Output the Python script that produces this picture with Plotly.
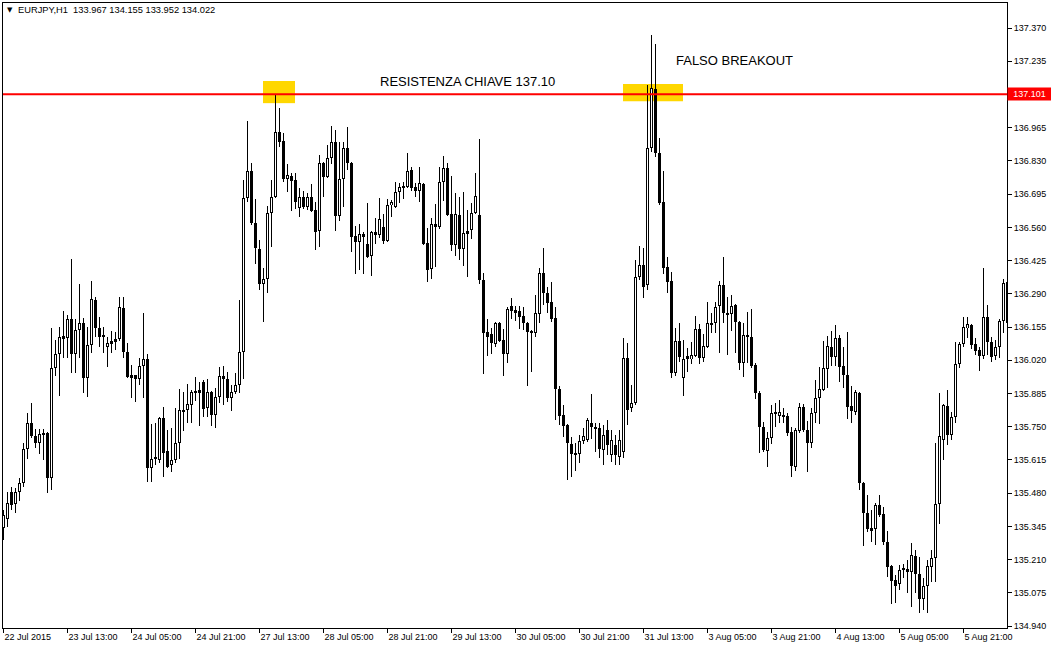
import plotly.graph_objects as go

# ---- data (EURJPY H1, bar index 0 = 22 Jul 2015 21:00) ----
opens = [
135.338, 135.374, 135.485, 135.436, 135.485, 135.521, 135.659, 135.765, 135.712, 135.684,
135.720, 135.724, 135.541, 135.988, 136.045, 136.110, 136.110, 136.188, 136.045, 136.143,
136.171, 135.948, 136.082, 136.265, 136.151, 136.123, 136.074, 136.090, 136.098, 136.106,
136.232, 136.053, 135.960, 135.960, 135.944, 135.997, 136.025, 135.582, 135.619, 135.615,
135.785, 135.651, 135.594, 135.615, 135.684, 135.818, 135.818, 135.838, 135.891, 135.891,
135.932, 135.826, 135.891, 135.798, 135.871, 135.956, 135.944, 135.866, 135.891, 135.919,
136.053, 136.679, 136.789, 136.578, 136.472, 136.330, 136.350, 136.618, 136.683, 136.948,
136.911, 136.757, 136.769, 136.752, 136.639, 136.683, 136.643, 136.683, 136.631, 136.545,
136.822, 136.765, 136.842, 136.907, 136.606, 136.757, 136.883, 136.822, 136.525, 136.500,
136.533, 136.492, 136.444, 136.541, 136.529, 136.561, 136.505, 136.651, 136.643, 136.704,
136.724, 136.724, 136.793, 136.724, 136.708, 136.736, 136.496, 136.391, 136.574, 136.561,
136.744, 136.801, 136.614, 136.488, 136.610, 136.472, 136.545, 136.549, 136.618, 136.610,
136.346, 136.135, 136.127, 136.086, 136.171, 136.102, 136.045, 136.240, 136.224, 136.220,
136.200, 136.171, 136.139, 136.131, 136.208, 136.374, 136.293, 136.257, 136.192, 135.903,
135.798, 135.757, 135.680, 135.643, 135.639, 135.692, 135.696, 135.765, 135.749, 135.745,
135.655, 135.736, 135.635, 135.675, 135.627, 135.647, 136.029, 135.826, 135.846, 136.358,
136.407, 136.326, 136.883, 137.122, 136.862, 136.663, 136.399, 136.342, 135.968, 136.098,
135.948, 136.037, 136.025, 136.037, 136.147, 136.029, 136.074, 136.167, 136.171, 136.240,
136.326, 136.208, 136.208, 136.244, 136.175, 136.009, 136.123, 136.114, 136.001, 135.887,
135.749, 135.651, 135.704, 135.802, 135.793, 135.798, 135.793, 135.728, 135.586, 135.732,
135.830, 135.736, 135.684, 135.806, 135.866, 135.899, 135.984, 136.074, 136.033, 136.110,
135.997, 135.960, 135.834, 135.810, 135.887, 135.521, 135.399, 135.338, 135.334, 135.432,
135.395, 135.281, 135.184, 135.127, 135.111, 135.168, 135.172, 135.159, 135.224, 135.151,
135.050, 135.103, 135.180, 135.216, 135.436, 135.696, 135.834, 135.716, 135.789, 136.005,
136.086, 136.151, 136.163, 136.086, 136.062, 136.037, 136.196, 136.094, 136.037, 136.074,
136.179, 136.338]

highs = [
135.411, 135.485, 135.505, 135.501, 135.541, 135.684, 135.806, 135.846, 135.740, 135.740,
135.740, 135.728, 136.151, 136.102, 136.155, 136.220, 136.204, 136.431, 136.188, 136.330,
136.192, 136.155, 136.342, 136.277, 136.196, 136.155, 136.114, 136.139, 136.135, 136.277,
136.277, 136.090, 136.001, 135.962, 136.029, 136.212, 136.045, 135.761, 135.765, 135.789,
135.830, 135.736, 135.745, 135.826, 135.903, 135.891, 135.923, 135.899, 135.952, 135.932,
135.940, 135.944, 135.895, 135.907, 135.992, 135.997, 135.972, 135.919, 135.968, 136.265,
136.752, 136.992, 136.822, 136.675, 136.509, 136.395, 136.647, 136.752, 137.102, 137.045,
136.943, 136.818, 136.781, 136.781, 136.720, 136.708, 136.700, 136.736, 136.663, 136.854,
136.826, 136.895, 136.972, 136.956, 136.907, 136.907, 136.968, 136.826, 136.566, 136.574,
136.541, 136.659, 136.545, 136.598, 136.679, 136.614, 136.675, 136.671, 136.744, 136.740,
136.744, 136.862, 136.805, 136.740, 136.805, 136.740, 136.557, 136.598, 136.655, 136.805,
136.850, 136.822, 136.769, 136.700, 136.683, 136.704, 136.631, 136.659, 136.781, 136.919,
136.374, 136.188, 136.151, 136.175, 136.175, 136.147, 136.236, 136.273, 136.240, 136.240,
136.236, 136.175, 136.143, 136.285, 136.395, 136.476, 136.318, 136.338, 136.236, 135.915,
135.838, 135.761, 135.708, 135.684, 135.716, 135.745, 135.785, 135.883, 135.765, 135.765,
135.757, 135.777, 135.736, 135.716, 135.736, 136.110, 136.090, 135.919, 136.427, 136.484,
136.476, 137.139, 137.342, 137.305, 136.923, 136.789, 136.440, 136.379, 136.151, 136.171,
136.102, 136.070, 136.094, 136.200, 136.167, 136.127, 136.257, 136.212, 136.257, 136.342,
136.440, 136.277, 136.285, 136.249, 136.179, 136.171, 136.216, 136.228, 136.009, 135.895,
135.769, 135.728, 135.838, 135.846, 135.858, 135.826, 135.806, 135.749, 135.745, 135.846,
135.842, 135.773, 135.826, 135.940, 135.992, 136.098, 136.118, 136.139, 136.163, 136.123,
136.074, 136.135, 135.915, 135.899, 135.891, 135.525, 135.472, 135.411, 135.440, 135.472,
135.424, 135.326, 135.188, 135.147, 135.188, 135.192, 135.208, 135.277, 135.249, 135.220,
135.135, 135.208, 135.249, 135.684, 135.887, 135.842, 135.899, 135.810, 136.094, 136.094,
136.196, 136.196, 136.167, 136.110, 136.074, 136.395, 136.244, 136.114, 136.102, 136.188,
136.350, 136.484]

lows = [
135.289, 135.343, 135.411, 135.399, 135.448, 135.505, 135.619, 135.704, 135.663, 135.639,
135.615, 135.481, 135.493, 135.956, 135.875, 136.029, 136.029, 135.968, 135.968, 136.029,
135.887, 135.871, 136.049, 136.114, 136.074, 136.049, 135.992, 136.049, 136.062, 136.098,
136.029, 135.950, 135.866, 135.850, 135.919, 135.866, 135.525, 135.525, 135.594, 135.602,
135.545, 135.583, 135.566, 135.602, 135.619, 135.732, 135.765, 135.765, 135.854, 135.753,
135.789, 135.789, 135.753, 135.745, 135.846, 135.838, 135.850, 135.814, 135.883, 135.887,
135.944, 136.663, 136.570, 136.411, 136.305, 136.175, 136.293, 136.480, 136.680, 136.887,
136.744, 136.704, 136.627, 136.635, 136.602, 136.635, 136.631, 136.622, 136.468, 136.480,
136.683, 136.761, 136.818, 136.545, 136.586, 136.643, 136.793, 136.460, 136.370, 136.387,
136.370, 136.437, 136.362, 136.492, 136.517, 136.492, 136.501, 136.602, 136.639, 136.659,
136.675, 136.720, 136.708, 136.683, 136.663, 136.488, 136.338, 136.350, 136.399, 136.553,
136.667, 136.606, 136.464, 136.444, 136.427, 136.403, 136.358, 136.513, 136.614, 136.330,
135.964, 136.037, 136.045, 136.074, 136.094, 135.956, 136.009, 136.188, 136.179, 136.147,
136.143, 135.915, 135.972, 136.114, 136.171, 136.244, 136.212, 136.175, 135.777, 135.757,
135.708, 135.533, 135.545, 135.570, 135.602, 135.680, 135.688, 135.700, 135.647, 135.623,
135.594, 135.635, 135.606, 135.594, 135.594, 135.623, 135.757, 135.810, 135.838, 136.346,
136.273, 136.305, 136.866, 136.846, 136.651, 136.370, 136.293, 135.948, 135.956, 136.013,
135.875, 135.972, 136.005, 136.033, 136.005, 136.013, 136.070, 136.131, 136.131, 136.049,
136.171, 136.041, 136.139, 136.049, 135.980, 135.952, 136.009, 135.988, 135.862, 135.643,
135.647, 135.586, 135.680, 135.749, 135.765, 135.765, 135.712, 135.545, 135.570, 135.724,
135.728, 135.566, 135.663, 135.765, 135.761, 135.895, 135.907, 135.997, 135.997, 135.932,
135.907, 135.781, 135.765, 135.798, 135.493, 135.265, 135.322, 135.281, 135.269, 135.383,
135.269, 135.139, 135.029, 135.034, 135.086, 135.135, 135.074, 135.017, 135.074, 134.993,
135.005, 134.993, 135.119, 135.119, 135.354, 135.615, 135.675, 135.696, 135.765, 135.988,
136.074, 136.110, 136.066, 136.041, 135.976, 136.025, 136.041, 136.013, 136.021, 136.029,
136.131, 136.110]

closes = [
135.391, 135.440, 135.432, 135.485, 135.521, 135.659, 135.765, 135.712, 135.684, 135.720,
135.724, 135.541, 135.988, 136.045, 136.114, 136.118, 136.188, 136.045, 136.143, 136.171,
135.948, 136.082, 136.269, 136.151, 136.114, 136.114, 136.090, 136.098, 136.106, 136.236,
136.053, 135.952, 135.952, 135.944, 135.997, 136.025, 135.582, 135.619, 135.627, 135.785,
135.643, 135.586, 135.615, 135.684, 135.818, 135.810, 135.842, 135.891, 135.895, 135.899,
135.822, 135.891, 135.798, 135.871, 135.956, 135.944, 135.866, 135.891, 135.919, 136.053,
136.679, 136.789, 136.578, 136.476, 136.330, 136.350, 136.618, 136.683, 136.948, 136.907,
136.757, 136.773, 136.748, 136.663, 136.683, 136.643, 136.683, 136.627, 136.541, 136.822,
136.765, 136.842, 136.907, 136.606, 136.757, 136.883, 136.822, 136.521, 136.500, 136.533,
136.521, 136.440, 136.541, 136.529, 136.594, 136.505, 136.651, 136.663, 136.704, 136.724,
136.728, 136.789, 136.720, 136.708, 136.740, 136.492, 136.387, 136.574, 136.561, 136.744,
136.801, 136.610, 136.488, 136.614, 136.472, 136.537, 136.537, 136.618, 136.687, 136.346,
136.131, 136.114, 136.090, 136.171, 136.098, 136.045, 136.228, 136.220, 136.212, 136.196,
136.171, 136.135, 136.131, 136.212, 136.374, 136.293, 136.253, 136.188, 135.903, 135.793,
135.753, 135.684, 135.639, 135.639, 135.692, 135.712, 135.777, 135.749, 135.740, 135.659,
135.716, 135.675, 135.696, 135.635, 135.696, 136.029, 135.818, 135.846, 136.358, 136.407,
136.318, 136.883, 137.126, 136.862, 136.659, 136.395, 136.338, 135.968, 136.098, 136.033,
136.025, 136.025, 136.041, 136.147, 136.029, 136.078, 136.171, 136.171, 136.236, 136.326,
136.212, 136.212, 136.240, 136.175, 136.009, 136.123, 136.114, 135.997, 135.887, 135.749,
135.655, 135.704, 135.806, 135.806, 135.810, 135.789, 135.724, 135.590, 135.736, 135.830,
135.736, 135.684, 135.806, 135.866, 135.903, 135.988, 136.078, 136.033, 136.110, 135.992,
135.960, 135.830, 135.814, 135.891, 135.521, 135.399, 135.334, 135.330, 135.432, 135.391,
135.281, 135.180, 135.123, 135.103, 135.168, 135.172, 135.159, 135.228, 135.151, 135.050,
135.103, 135.184, 135.216, 135.436, 135.712, 135.838, 135.716, 135.789, 136.005, 136.086,
136.155, 136.167, 136.082, 136.058, 136.037, 136.196, 136.094, 136.033, 136.074, 136.179,
136.334, 136.171]

bar_index = list(range(len(closes)))

time_tick_bars = [0, 16, 32, 48, 64, 80, 96, 112, 128, 144, 160, 176, 192, 208, 224, 240]
time_tick_labels = ["22 Jul 2015", "23 Jul 13:00", "24 Jul 05:00", "24 Jul 21:00",
                    "27 Jul 13:00", "28 Jul 05:00", "28 Jul 21:00", "29 Jul 13:00",
                    "30 Jul 05:00", "30 Jul 21:00", "31 Jul 13:00", "3 Aug 05:00",
                    "3 Aug 21:00", "4 Aug 13:00", "5 Aug 05:00", "5 Aug 21:00"]

price_ticks = [137.370, 137.235, 136.965, 136.830, 136.695, 136.560, 136.425, 136.290,
               136.155, 136.020, 135.885, 135.750, 135.615, 135.480, 135.345, 135.210,
               135.075, 134.940]

resistance = 137.101
highlight_zones = [  # (first bar, last bar, low price, high price)
    (65, 73, 137.065, 137.155),
    (155, 170, 137.073, 137.143),
]
label_resistance = ("RESISTENZA CHIAVE 137.10", 93.5, 137.155)   # (text, bar, price)
label_breakout = ("FALSO BREAKOUT", 167.5, 137.240)
header_text = "EURJPY,H1  133.967 134.155 133.952 134.022"

# ---- layout geometry ----
FIG_W, FIG_H = 1051, 647
MARGIN = dict(l=3, r=44, t=3, b=19)
X_RANGE = [-0.125, 250.875]
Y_RANGE = [134.932, 137.472]
PLOT_H = FIG_H - MARGIN["t"] - MARGIN["b"]
ONE_PX = (Y_RANGE[1] - Y_RANGE[0]) / PLOT_H   # one screen pixel in price units

FONT = "Liberation Sans, Arial, sans-serif"
AX_FONT = dict(family=FONT, size=9, color="black")

# ---- candles drawn as bars: wicks, black body blocks, white interiors for bull bars ----
body_lo = [min(o, c) for o, c in zip(opens, closes)]
body_hi = [max(o, c) for o, c in zip(opens, closes)]
hollow = [i for i in bar_index if closes[i] > opens[i] and body_hi[i] - body_lo[i] > 2.5 * ONE_PX]

fig = go.Figure()
fig.add_trace(go.Bar(
    x=bar_index, y=[h - l for h, l in zip(highs, lows)], base=lows, width=0.25,
    marker=dict(color="black", line=dict(width=0)),
    hoverinfo="skip", showlegend=False,
))
fig.add_trace(go.Bar(
    x=bar_index, y=[max(h - l, ONE_PX) for h, l in zip(body_hi, body_lo)],
    base=body_lo, width=0.75,
    marker=dict(color="black", line=dict(width=0)),
    hoverinfo="skip", showlegend=False,
))
fig.add_trace(go.Bar(
    x=hollow, y=[body_hi[i] - body_lo[i] - 2 * ONE_PX for i in hollow],
    base=[body_lo[i] + ONE_PX for i in hollow], width=0.25,
    marker=dict(color="white", line=dict(width=0)),
    hoverinfo="skip", showlegend=False,
))

shapes = []
for first, last, y0, y1 in highlight_zones:
    shapes.append(dict(type="rect", xref="x", yref="y", x0=first - 0.125, x1=last - 0.125,
                       y0=y0, y1=y1, fillcolor="#FFD700", line=dict(width=0),
                       layer="below"))
shapes.append(dict(type="line", xref="paper", yref="y", x0=0, x1=1,
                   y0=resistance, y1=resistance,
                   line=dict(color="#FF0000", width=2), layer="above"))

annotations = []
for text, bx, py in (label_resistance, label_breakout):
    annotations.append(dict(xref="x", yref="y", x=bx, y=py, text=text,
                            showarrow=False, xanchor="left", yanchor="middle",
                            font=dict(family=FONT, size=13, color="black")))
annotations += [
    dict(xref="paper", yref="paper", x=0.0015, y=0.989, text="▼",
         showarrow=False, xanchor="left", yanchor="middle",
         font=dict(family="DejaVu Sans", size=7, color="black")),
    dict(xref="paper", yref="paper", x=0.013, y=0.989, text=header_text,
         showarrow=False, xanchor="left", yanchor="middle",
         font=dict(family=FONT, size=9.3, color="black")),
    dict(xref="paper", yref="y", x=1, y=resistance, text=f"{resistance:.3f}",
         showarrow=False, xanchor="left", yanchor="middle", xshift=0,
         bgcolor="#FF0000", borderpad=1, width=41,
         font=dict(family=FONT, size=9, color="white")),
]

fig.update_layout(
    width=FIG_W, height=FIG_H,
    margin=MARGIN,
    paper_bgcolor="white", plot_bgcolor="white",
    barmode="overlay", bargap=0, bargroupgap=0,
    shapes=shapes, annotations=annotations,
    showlegend=False,
    xaxis=dict(range=X_RANGE, tickmode="array", tickvals=time_tick_bars,
               ticktext=time_tick_labels, ticks="outside", ticklen=4,
               tickcolor="black", ticklabelposition="outside right",
               showgrid=False, zeroline=False, showline=True, linecolor="black",
               linewidth=1, mirror=True, automargin=False,
               tickfont=AX_FONT, fixedrange=True),
    yaxis=dict(range=Y_RANGE, side="right", tickmode="array",
               tickvals=price_ticks, ticktext=[f"{v:.3f}" for v in price_ticks],
               ticks="outside", ticklen=4, tickcolor="black",
               showgrid=False, zeroline=False, showline=True, linecolor="black",
               linewidth=1, mirror=True, automargin=False,
               tickfont=AX_FONT, fixedrange=True),
)

fig.write_html("out.html", config={"displayModeBar": False},
               post_script="document.body.style.margin='0';")
